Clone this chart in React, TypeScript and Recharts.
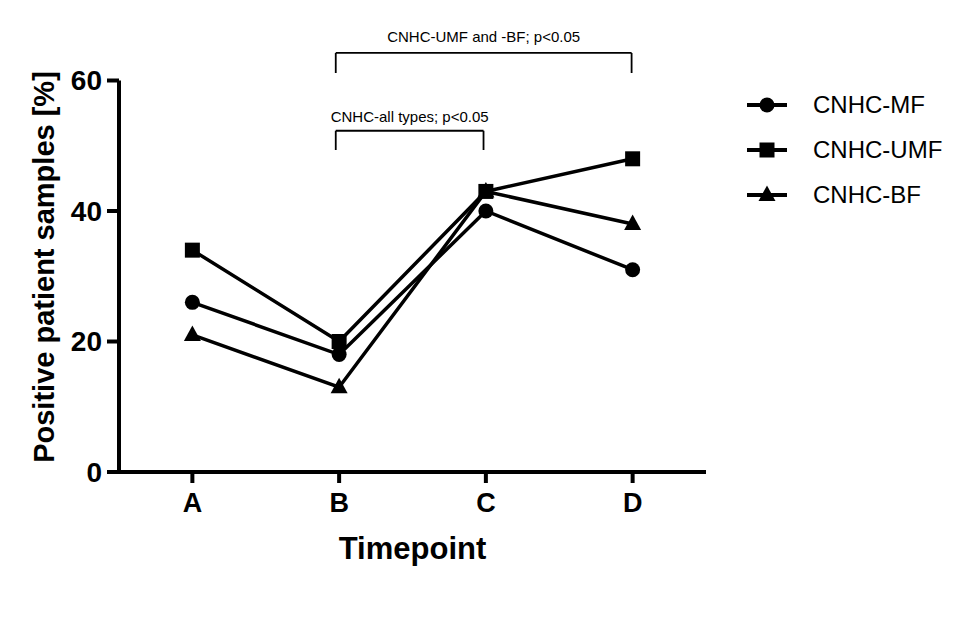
import React from 'react';
import {
  LineChart,
  Line,
  XAxis,
  YAxis,
  Legend,
  ReferenceLine,
} from 'recharts';

const categories = ['A', 'B', 'C', 'D'];
const mfValues = [26, 18, 40, 31];
const umfValues = [34, 20, 43, 48];
const bfValues = [21, 13, 43, 38];
const yTicks = [0, 20, 40, 60];

const FONT = '"Liberation Sans", Arial, Helvetica, sans-serif';

const data = categories.map((c, i) => ({
  x: i + 1,
  name: c,
  mf: mfValues[i],
  umf: umfValues[i],
  bf: bfValues[i],
}));

// marker shapes used both in the plot and in the legend
function Marker({ kind, cx, cy }: { kind: string; cx: number; cy: number }) {
  if (kind === 'circle') return <circle cx={cx} cy={cy} r={7.5} fill="#000" />;
  if (kind === 'square')
    return <rect x={cx - 7.5} y={cy - 7.5} width={15} height={15} fill="#000" />;
  return (
    <polygon
      points={`${cx},${cy - 9.5} ${cx - 8.5},${cy + 6} ${cx + 8.5},${cy + 6}`}
      fill="#000"
    />
  );
}

const seriesList = [
  { key: 'mf', name: 'CNHC-MF', marker: 'circle' },
  { key: 'umf', name: 'CNHC-UMF', marker: 'square' },
  { key: 'bf', name: 'CNHC-BF', marker: 'triangle' },
];

function renderLegend() {
  return (
    <div style={{ fontFamily: FONT }}>
      {seriesList.map((s) => (
        <div
          key={s.key}
          style={{ display: 'flex', alignItems: 'center', height: 45 }}
        >
          <svg width={40} height={24}>
            <line x1={0} y1={12} x2={40} y2={12} stroke="#000" strokeWidth={4} />
            <Marker kind={s.marker} cx={20} cy={12} />
          </svg>
          <span style={{ marginLeft: 26, fontSize: 24, color: '#000' }}>{s.name}</span>
        </div>
      ))}
    </div>
  );
}

function bracket(x1: number, x2: number, yTop: number, yBottom: number, text: string, offset: number) {
  const lineProps = { stroke: '#000', strokeWidth: 1.8, ifOverflow: 'visible' as const };
  return [
    <ReferenceLine
      key={text + '-top'}
      segment={[{ x: x1, y: yTop }, { x: x2, y: yTop }]}
      {...lineProps}
      label={{
        value: text,
        position: 'top',
        offset,
        fill: '#000',
        fontSize: 15,
        fontFamily: FONT,
      }}
    />,
    <ReferenceLine
      key={text + '-l'}
      segment={[{ x: x1, y: yTop }, { x: x1, y: yBottom }]}
      {...lineProps}
    />,
    <ReferenceLine
      key={text + '-r'}
      segment={[{ x: x2, y: yTop }, { x: x2, y: yBottom }]}
      {...lineProps}
    />,
  ];
}

export default function App() {
  return (
    <div style={{ width: 964, height: 614, background: '#fff', fontFamily: FONT }}>
      <LineChart
        width={964}
        height={614}
        data={data}
        margin={{ top: 72.5, right: 266, bottom: 120, left: 51 }}
      >
        <XAxis
          type="number"
          dataKey="x"
          domain={[0.5, 4.5]}
          ticks={[1, 2, 3, 4]}
          tickFormatter={(v: number) => categories[v - 1]}
          axisLine={{ stroke: '#000', strokeWidth: 4 }}
          tickLine={{ stroke: '#000', strokeWidth: 4 }}
          tickSize={11}
          tickMargin={10}
          tick={{ fill: '#000', fontSize: 27, fontWeight: 'bold', fontFamily: FONT }}
          height={30}
          label={{
            value: 'Timepoint',
            position: 'insideBottom',
            offset: -57,
            fill: '#000',
            fontSize: 31,
            fontWeight: 'bold',
            fontFamily: FONT,
          }}
        />
        <YAxis
          domain={[0, 60]}
          ticks={yTicks}
          width={60}
          axisLine={{ stroke: '#000', strokeWidth: 4 }}
          tickLine={{ stroke: '#000', strokeWidth: 4 }}
          tickSize={12}
          tickMargin={5}
          tick={{ fill: '#000', fontSize: 28, fontWeight: 'bold', fontFamily: FONT }}
          label={{
            content: () => (
              <text
                x={46}
                y={259}
                transform="rotate(-90, 46, 259)"
                textAnchor="middle"
                fontSize={29}
                fontWeight="bold"
                fontFamily={FONT}
                fill="#000"
              >
                Positive patient samples [%]
              </text>
            ),
          }}
        />
        {bracket(1.977, 3.993, 64.22, 61.15, 'CNHC-UMF and -BF; p<0.05', 11)}
        {bracket(1.977, 2.984, 52.3, 49.35, 'CNHC-all types; p<0.05', 9)}
        {seriesList.map((s) => (
          <Line
            key={s.key}
            type="linear"
            dataKey={s.key}
            name={s.name}
            stroke="#000"
            strokeWidth={3.5}
            isAnimationActive={false}
            dot={(p: any) => (
              <Marker key={`${s.key}-${p.index}`} kind={s.marker} cx={p.cx} cy={p.cy} />
            )}
            activeDot={false}
          />
        ))}
        <Legend
          layout="horizontal"
          verticalAlign="middle"
          align="center"
          content={renderLegend}
          wrapperStyle={{ position: 'absolute', left: 739, top: 74.5, width: 220 }}
        />
      </LineChart>
    </div>
  );
}
